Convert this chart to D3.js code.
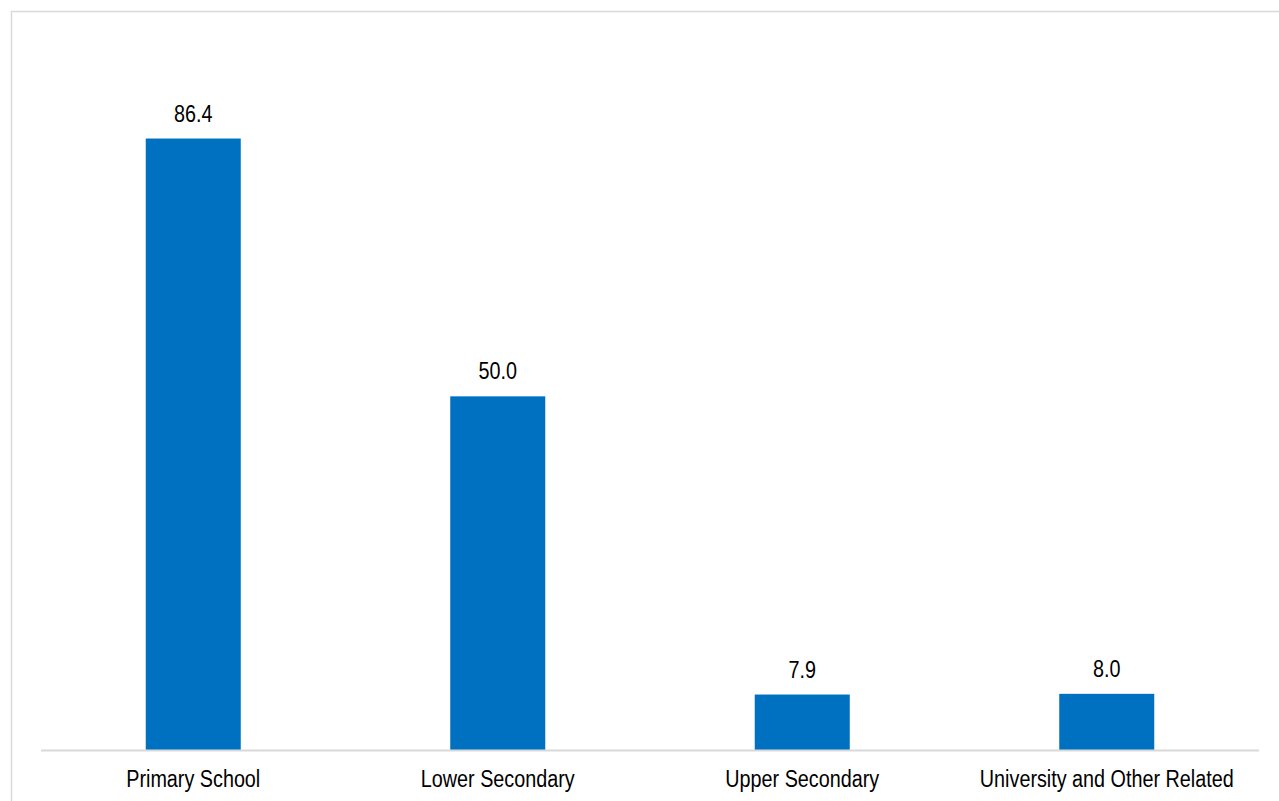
<!DOCTYPE html>
<html>
<head>
<meta charset="utf-8">
<script src="https://cdn.jsdelivr.net/npm/d3@7"></script>
<style>
  html, body { margin: 0; padding: 0; background: #fff; }
  svg { display: block; }
  text { font-family: "Liberation Sans Narrow", "Arial Narrow", "Liberation Sans", Arial, sans-serif; fill: #000; }
</style>
</head>
<body>
<svg id="chart" width="1279" height="801"></svg>
<script>
const categories = ["Primary School", "Lower Secondary", "Upper Secondary", "University and Other Related"];
const values = [86.4, 50.0, 7.9, 8.0];
const valueLabels = ["86.4", "50.0", "7.9", "8.0"];

const svg = d3.select("#chart");
const W = 1279, H = 801;
const SX = 0.86; // horizontal condensing of text

// chart border
svg.append("rect")
  .attr("x", 11.5).attr("y", 11.5)
  .attr("width", W + 10).attr("height", H + 10)
  .attr("fill", "none").attr("stroke", "#d9d9d9").attr("stroke-width", 1.5);

const x = d3.scaleBand()
  .domain(categories)
  .range([41, 1259])
  .paddingInner(0.688)
  .paddingOuter(0.344);

const y = d3.scaleLinear()
  .domain([0, 100])
  .range([750.5, 750.5 - 708.3]);

const data = categories.map((c, i) => ({ c, v: values[i], l: valueLabels[i] }));

svg.selectAll("rect.bar")
  .data(data)
  .enter().append("rect")
  .attr("class", "bar")
  .attr("x", d => x(d.c))
  .attr("y", d => y(d.v))
  .attr("width", x.bandwidth())
  .attr("height", d => y(0) - y(d.v))
  .attr("fill", "#0070C0");

// baseline axis
const axis = d3.axisBottom(x).tickSize(0).tickPadding(0);
const gx = svg.append("g")
  .attr("transform", `translate(0,${y(0)})`)
  .call(axis);
gx.select(".domain").attr("stroke", "#d9d9d9").attr("stroke-width", 2)
  .attr("d", "M41,0H1259");
gx.selectAll(".tick text")
  .attr("font-family", null)
  .attr("font-size", 23)
  .attr("fill", "#000")
  .attr("y", 0)
  .attr("dy", null)
  .attr("transform", `translate(0,36.5) scale(${SX},1)`);

svg.selectAll("text.val")
  .data(data)
  .enter().append("text")
  .attr("class", "val")
  .attr("transform", d => `translate(${x(d.c) + x.bandwidth() / 2},${y(d.v) - 17}) scale(${SX},1)`)
  .attr("text-anchor", "middle")
  .attr("font-size", 23)
  .text(d => d.l);
</script>
</body>
</html>
